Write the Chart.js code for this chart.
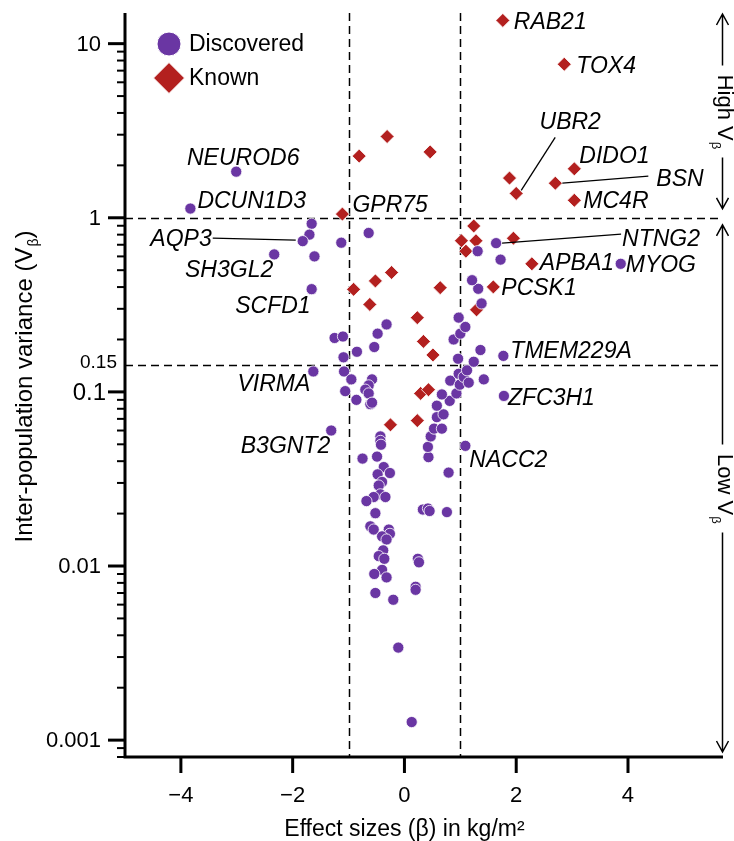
<!DOCTYPE html>
<html>
<head>
<meta charset="utf-8">
<script src="https://cdn.jsdelivr.net/npm/chart.js@4.4.0/dist/chart.umd.min.js"></script>
<style>
html,body{margin:0;padding:0;background:#fff;}
</style>
</head>
<body>
<canvas id="vbChart" width="734" height="841"></canvas>
<script>
// --- Data (effect size beta, inter-population variance V_beta) ---
const discoveredX = [
  -3.01, -3.83, -1.66, -1.70, -1.82, -1.13, -2.33, -1.61, -0.64, -1.66,
  -1.25, -1.10, -0.85, -1.09, -1.63, -1.08, -0.95, -1.06, -0.86, -1.31,
  -0.75, -0.32, -0.48, -0.54, -0.58, -0.64, -0.70, -0.64, -0.61, -0.43,
  -0.43, -0.42, -0.49, -0.37, -0.26, -0.48, -0.40, -0.46, -0.43, -0.55,
  -0.34, -0.68, -0.52, -0.61, -0.55, -0.28, -0.26, -0.40, -0.32, -0.38,
  -0.46, -0.36, -0.40, -0.54, -0.32, -0.52, -0.20, -0.11, 0.13, 0.20,
  0.20, 0.24, 0.26, 0.33, 0.42, 0.45, 0.76, 0.79, 0.43, 0.42,
  0.47, 0.53, 0.67, 0.58, 0.70, 0.58, 0.81, 0.67, 0.93, 0.82,
  0.99, 0.97, 1.06, 1.15, 1.12, 1.42, 1.24, 1.36, 0.96, 0.88,
  1.00, 1.09, 0.97, 1.38, 1.32, 1.21, 1.77, 1.78, 1.09, 1.64,
  1.72, 1.31, 3.87, -0.58
];
const discoveredY = [
  1.84, 1.13, 0.924, 0.80, 0.734, 0.719, 0.616, 0.60, 0.818, 0.389,
  0.204, 0.208, 0.170, 0.158, 0.131, 0.131, 0.118, 0.101, 0.090, 0.060,
  0.0414, 0.244, 0.216, 0.181, 0.118, 0.109, 0.103, 0.098, 0.085, 0.0555,
  0.0523, 0.0497, 0.0425, 0.037, 0.0342, 0.0336, 0.0304, 0.029, 0.0258, 0.0249,
  0.0249, 0.0236, 0.0201, 0.0169, 0.0162, 0.0162, 0.0153, 0.0148, 0.0142, 0.0123,
  0.0114, 0.0110, 0.0095, 0.0090, 0.0086, 0.0070, 0.0064, 0.0034, 0.00127, 0.0076,
  0.0073, 0.0110, 0.0105, 0.0211, 0.0214, 0.0207, 0.0204, 0.0344, 0.0422, 0.0483,
  0.0555, 0.0615, 0.0615, 0.0716, 0.0743, 0.0833, 0.0888, 0.0967, 0.098, 0.116,
  0.110, 0.127, 0.122, 0.113, 0.133, 0.118, 0.149, 0.174, 0.155, 0.200,
  0.216, 0.236, 0.267, 0.322, 0.391, 0.438, 0.161, 0.0948, 0.049, 0.715,
  0.575, 0.643, 0.544, 0.0867
];
const discoveredLabelIdx = [0, 1, 4, 6, 9, 14, 19, 96, 97, 98, 99, 102];
const discoveredLabelText = ['NEUROD6', 'DCUN1D3', 'AQP3', 'SH3GL2', 'SCFD1', 'VIRMA',
  'B3GNT2', 'TMEM229A', 'ZFC3H1', 'NACC2', 'NTNG2', 'MYOG'];

const knownX = [
  1.76, 2.86, -0.31, -0.81, 0.46, 1.88, 2.00, 3.04, 2.70, 3.04,
  -1.11, 1.24, 1.02, 1.28, 1.10, 1.95, 2.28, 1.59, 1.29, -0.23,
  -0.52, -0.91, 0.64, -0.62, 0.23, 0.34, 0.51, 0.29, 0.43, -0.25, 0.23
];
const knownY = [
  13.6, 7.62, 2.93, 2.26, 2.39, 1.69, 1.38, 1.91, 1.58, 1.26,
  1.05, 0.897, 0.738, 0.738, 0.643, 0.763, 0.544, 0.401, 0.296, 0.485,
  0.434, 0.388, 0.397, 0.318, 0.267, 0.195, 0.163, 0.098, 0.103, 0.0647, 0.0684
];
const knownLabelIdx = [0, 1, 6, 7, 8, 9, 10, 16, 17];
const knownLabelText = ['RAB21', 'TOX4', 'UBR2', 'DIDO1', 'BSN', 'MC4R', 'GPR75', 'APBA1', 'PCSK1'];

// axes / thresholds
const xTicks = [-4, -2, 0, 2, 4];
const yMajorTicks = [0.001, 0.01, 0.1, 1, 10];
const yMajorLabels = ['0.001', '0.01', '0.1', '1', '10'];
const yMinorTicks = [0.0008, 0.0009,
  0.002, 0.003, 0.004, 0.005, 0.006, 0.007, 0.008, 0.009,
  0.02, 0.03, 0.04, 0.05, 0.06, 0.07, 0.08, 0.09,
  0.2, 0.3, 0.4, 0.5, 0.6, 0.7, 0.8, 0.9,
  2, 3, 4, 5, 6, 7, 8, 9];
const betaCuts = [-1, 1];
const vbHighCut = 1;
const vbLowCut = 0.143;
const vbLowCutLabel = '0.15';

// --- Style ---
const FONT = "'Liberation Sans', Arial, sans-serif";
const PURPLE = '#6a36a3';
const RED = '#b3201f';

// label placement relative to its point (px); lead = leader line [x1,y1,x2,y2]
const labelLayout = {
  RAB21: {dx: 11, dy: 2, align: 'left'},
  TOX4: {dx: 12, dy: 2, align: 'left'},
  UBR2: {dx: 54, dy: -71, align: 'center', lead: [5, -3, 39, -56]},
  DIDO1: {dx: 5, dy: -12, align: 'left'},
  BSN: {dx: 101, dy: -4, align: 'left', lead: [7, 0, 93, -7]},
  MC4R: {dx: 9, dy: 1, align: 'left'},
  GPR75: {dx: 10, dy: -8, align: 'left'},
  APBA1: {dx: 8, dy: 0, align: 'left'},
  PCSK1: {dx: 8, dy: 2, align: 'left'},
  NEUROD6: {dx: 7, dy: -13, align: 'center'},
  DCUN1D3: {dx: 7, dy: -7, align: 'left'},
  AQP3: {dx: -91, dy: -2, align: 'right', lead: [-90, -3, -7, -1]},
  SH3GL2: {dx: -1, dy: 16, align: 'right'},
  SCFD1: {dx: -1, dy: 17, align: 'right'},
  VIRMA: {dx: -3, dy: 13, align: 'right'},
  B3GNT2: {dx: -1, dy: 16, align: 'right'},
  TMEM229A: {dx: 7, dy: -4, align: 'left'},
  ZFC3H1: {dx: 4, dy: 3, align: 'left'},
  NACC2: {dx: 4, dy: 15, align: 'left'},
  NTNG2: {dx: 126, dy: -4, align: 'left', lead: [6, 0, 125, -9]},
  MYOG: {dx: 5, dy: 2, align: 'left'}
};

function toPoints(xs, ys) {
  return xs.map((x, i) => ({x: x, y: ys[i]}));
}

// draw text with a subscript piece, along +x of the current transform
function drawWithSub(ctx, main, sub, tail, size, subSize, align) {
  ctx.font = size + 'px ' + FONT;
  const wMain = ctx.measureText(main).width;
  const wTail = tail ? ctx.measureText(tail).width : 0;
  ctx.font = subSize + 'px ' + FONT;
  const wSub = ctx.measureText(sub).width;
  const total = wMain + wSub + wTail;
  let x0 = align === 'center' ? -total / 2 : 0;
  ctx.textAlign = 'left';
  ctx.textBaseline = 'alphabetic';
  ctx.font = size + 'px ' + FONT;
  ctx.fillText(main, x0, 0);
  ctx.font = subSize + 'px ' + FONT;
  ctx.fillText(sub, x0 + wMain + 1, 6);
  if (tail) {
    ctx.font = size + 'px ' + FONT;
    ctx.fillText(tail, x0 + wMain + wSub + 1, 0);
  }
  return total;
}

// vertical double arrow with a gap for the text
function rangeArrow(ctx, x, yTop, yBot, textLen, label) {
  const mid = (yTop + yBot) / 2;
  const g = textLen / 2 + 8;
  ctx.beginPath();
  ctx.moveTo(x, yTop); ctx.lineTo(x, mid - g);
  ctx.moveTo(x, mid + g); ctx.lineTo(x, yBot);
  ctx.moveTo(x - 6, yTop + 11); ctx.lineTo(x, yTop); ctx.lineTo(x + 6, yTop + 11);
  ctx.moveTo(x - 6, yBot - 11); ctx.lineTo(x, yBot); ctx.lineTo(x + 6, yBot - 11);
  ctx.stroke();
  ctx.save();
  ctx.translate(x - 5, mid);
  ctx.rotate(Math.PI / 2);
  drawWithSub(ctx, label, 'β', '', 22, 13, 'center');
  ctx.restore();
}

const overlay = {
  id: 'overlay',
  beforeDatasetsDraw(chart) {
    const {ctx, chartArea: a, scales: {x, y}} = chart;
    ctx.save();
    ctx.strokeStyle = '#000';
    ctx.lineWidth = 1.5;
    ctx.setLineDash([8, 5]);
    betaCuts.forEach(v => {
      const px = Math.round(x.getPixelForValue(v)) + 0.5;
      ctx.beginPath(); ctx.moveTo(px, a.top); ctx.lineTo(px, a.bottom); ctx.stroke();
    });
    [vbHighCut, vbLowCut].forEach(v => {
      const py = Math.round(y.getPixelForValue(v)) + 0.5;
      ctx.beginPath(); ctx.moveTo(a.left, py); ctx.lineTo(a.right, py); ctx.stroke();
    });
    ctx.restore();
  },
  afterDatasetsDraw(chart) {
    const ctx = chart.ctx;
    ctx.save();
    ctx.fillStyle = '#000';
    ctx.strokeStyle = '#000';
    ctx.lineWidth = 1.3;
    ctx.font = 'italic 23px ' + FONT;
    ctx.textBaseline = 'middle';
    const groups = [[0, discoveredLabelIdx, discoveredLabelText], [1, knownLabelIdx, knownLabelText]];
    groups.forEach(([ds, idx, txt]) => {
      const meta = chart.getDatasetMeta(ds);
      idx.forEach((i, k) => {
        const pt = meta.data[i];
        const lay = labelLayout[txt[k]];
        if (lay.lead) {
          ctx.beginPath();
          ctx.moveTo(pt.x + lay.lead[0], pt.y + lay.lead[1]);
          ctx.lineTo(pt.x + lay.lead[2], pt.y + lay.lead[3]);
          ctx.stroke();
        }
        ctx.textAlign = lay.align;
        ctx.fillText(txt[k], pt.x + lay.dx, pt.y + lay.dy);
      });
    });
    ctx.restore();
  },
  afterDraw(chart) {
    const {ctx, chartArea: a, scales: {x, y}} = chart;
    ctx.save();
    ctx.strokeStyle = '#000';
    ctx.fillStyle = '#000';
    // axis lines
    ctx.lineWidth = 3;
    ctx.beginPath();
    ctx.moveTo(a.left, a.top); ctx.lineTo(a.left, a.bottom + 1.5);
    ctx.moveTo(a.left - 1.5, a.bottom); ctx.lineTo(a.right, a.bottom);
    ctx.stroke();
    // y ticks
    yMajorTicks.forEach(v => {
      const py = y.getPixelForValue(v);
      ctx.beginPath(); ctx.moveTo(a.left - 17, py); ctx.lineTo(a.left, py); ctx.stroke();
    });
    ctx.lineWidth = 2;
    yMinorTicks.forEach(v => {
      const py = y.getPixelForValue(v);
      ctx.beginPath(); ctx.moveTo(a.left - 8, py); ctx.lineTo(a.left, py); ctx.stroke();
    });
    // x ticks
    ctx.lineWidth = 3;
    xTicks.forEach(v => {
      const px = x.getPixelForValue(v);
      ctx.beginPath(); ctx.moveTo(px, a.bottom); ctx.lineTo(px, a.bottom + 16); ctx.stroke();
    });
    // y tick labels
    ctx.textAlign = 'right';
    ctx.textBaseline = 'middle';
    yMajorTicks.forEach((v, i) => {
      ctx.font = (v === 0.1 ? 24 : 22) + 'px ' + FONT;
      ctx.fillText(yMajorLabels[i], a.left - (v === 0.1 ? 19 : 24), y.getPixelForValue(v) + 1);
    });
    ctx.font = '19px ' + FONT;
    ctx.fillText(vbLowCutLabel, a.left - 8, y.getPixelForValue(vbLowCut) - 2);

    // axis titles
    ctx.textAlign = 'center';
    ctx.textBaseline = 'alphabetic';
    ctx.font = '23px ' + FONT;
    ctx.fillText('Effect sizes (β) in kg/m²', x.getPixelForValue(0), 836);
    ctx.save();
    ctx.translate(32, 387);
    ctx.rotate(-Math.PI / 2);
    drawWithSub(ctx, 'Inter-population variance (V', 'β', ')', 24, 14, 'center');
    ctx.restore();

    // legend
    const legX = 169;
    ctx.fillStyle = PURPLE;
    ctx.strokeStyle = '#fff';
    ctx.lineWidth = 1;
    ctx.beginPath(); ctx.arc(legX, 44, 12, 0, Math.PI * 2); ctx.fill(); ctx.stroke();
    ctx.fillStyle = RED;
    ctx.beginPath();
    ctx.moveTo(legX - 15.5, 78); ctx.lineTo(legX, 62.5); ctx.lineTo(legX + 15.5, 78); ctx.lineTo(legX, 93.5);
    ctx.closePath(); ctx.fill(); ctx.stroke();
    ctx.fillStyle = '#000';
    ctx.textAlign = 'left';
    ctx.textBaseline = 'middle';
    ctx.font = '23px ' + FONT;
    ctx.fillText('Discovered', 189, 45);
    ctx.fillText('Known', 189, 79);

    // High / Low V_beta ranges on the right
    ctx.strokeStyle = '#000';
    ctx.lineWidth = 1.5;
    const yOne = y.getPixelForValue(vbHighCut);
    const ax = a.right - 0.5;
    rangeArrow(ctx, ax, a.top + 1, yOne - 9, 76, 'High V');
    rangeArrow(ctx, ax, yOne + 7, a.bottom - 5, 72, 'Low V');
    ctx.restore();
  }
};

new Chart(document.getElementById('vbChart'), {
  type: 'scatter',
  data: {
    datasets: [
      {
        label: 'Discovered',
        data: toPoints(discoveredX, discoveredY),
        pointStyle: 'circle',
        pointRadius: 5.6,
        pointHoverRadius: 5.6,
        backgroundColor: PURPLE,
        borderColor: '#ffffff',
        borderWidth: 0.8
      },
      {
        label: 'Known',
        data: toPoints(knownX, knownY),
        pointStyle: 'rectRot',
        pointRadius: 7,
        pointHoverRadius: 7,
        backgroundColor: RED,
        borderColor: '#ffffff',
        borderWidth: 0.8
      }
    ]
  },
  options: {
    responsive: false,
    animation: false,
    layout: {padding: {left: 0, right: 11, top: 13, bottom: 0}},
    plugins: {legend: {display: false}, tooltip: {enabled: false}},
    scales: {
      x: {
        type: 'linear', min: -5, max: 5.7,
        afterBuildTicks: s => { s.ticks = xTicks.map(v => ({value: v})); },
        grid: {display: false, drawTicks: false},
        border: {display: false},
        ticks: {
          color: '#000', padding: 26, maxRotation: 0, autoSkip: false,
          font: {size: 22, family: FONT},
          callback: v => v < 0 ? '\u2212' + Math.abs(v) : String(v)
        },
        afterFit: s => { s.height = 84; }
      },
      y: {
        type: 'logarithmic', min: 0.0008, max: 15,
        grid: {display: false, drawTicks: false},
        border: {display: false},
        ticks: {display: false},
        afterFit: s => { s.width = 125; }
      }
    }
  },
  plugins: [overlay]
});
</script>
</body>
</html>
